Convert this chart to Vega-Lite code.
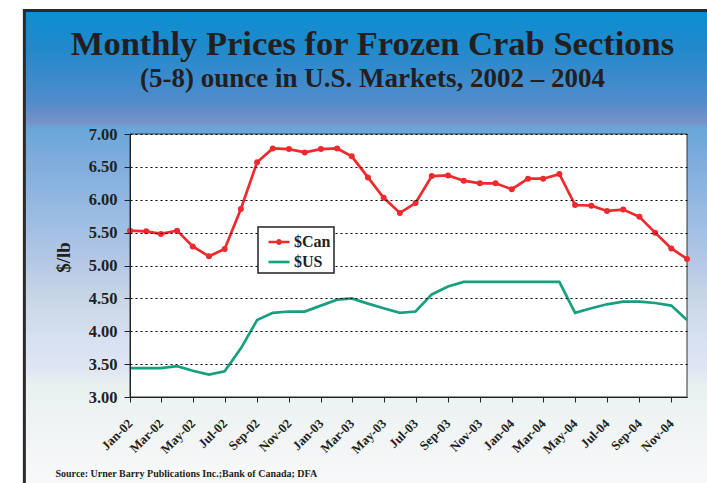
{
  "$schema": "https://vega.github.io/schema/vega-lite/v6.json",
  "width": 557,
  "height": 263,
  "autosize": {"type": "none"},
  "padding": {"left": 130, "top": 134, "right": 20, "bottom": 86},
  "background": "white",
  "title": {
    "text": "Monthly Prices for Frozen Crab Sections",
    "subtitle": "(5-8) ounce in U.S. Markets, 2002 – 2004",
    "anchor": "middle",
    "frame": "group",
    "dx": -36,
    "offset": -84,
    "font": "Liberation Serif",
    "fontSize": 34.5,
    "fontWeight": "bold",
    "color": "#231f20",
    "subtitleFont": "Liberation Serif",
    "subtitleFontSize": 27,
    "subtitleFontWeight": "bold",
    "subtitleColor": "#231f20",
    "subtitlePadding": 4,
    "zindex": 1
  },
  "datasets": {
    "prices": [
      {"month": "2002-01-01", "series": "$Can", "price": 5.53},
      {"month": "2002-02-01", "series": "$Can", "price": 5.52},
      {"month": "2002-03-01", "series": "$Can", "price": 5.48},
      {"month": "2002-04-01", "series": "$Can", "price": 5.53},
      {"month": "2002-05-01", "series": "$Can", "price": 5.29},
      {"month": "2002-06-01", "series": "$Can", "price": 5.14},
      {"month": "2002-07-01", "series": "$Can", "price": 5.25},
      {"month": "2002-08-01", "series": "$Can", "price": 5.86},
      {"month": "2002-09-01", "series": "$Can", "price": 6.57},
      {"month": "2002-10-01", "series": "$Can", "price": 6.78},
      {"month": "2002-11-01", "series": "$Can", "price": 6.77},
      {"month": "2002-12-01", "series": "$Can", "price": 6.72},
      {"month": "2003-01-01", "series": "$Can", "price": 6.77},
      {"month": "2003-02-01", "series": "$Can", "price": 6.78},
      {"month": "2003-03-01", "series": "$Can", "price": 6.66},
      {"month": "2003-04-01", "series": "$Can", "price": 6.34},
      {"month": "2003-05-01", "series": "$Can", "price": 6.03},
      {"month": "2003-06-01", "series": "$Can", "price": 5.80},
      {"month": "2003-07-01", "series": "$Can", "price": 5.95},
      {"month": "2003-08-01", "series": "$Can", "price": 6.36},
      {"month": "2003-09-01", "series": "$Can", "price": 6.37},
      {"month": "2003-10-01", "series": "$Can", "price": 6.29},
      {"month": "2003-11-01", "series": "$Can", "price": 6.25},
      {"month": "2003-12-01", "series": "$Can", "price": 6.25},
      {"month": "2004-01-01", "series": "$Can", "price": 6.16},
      {"month": "2004-02-01", "series": "$Can", "price": 6.32},
      {"month": "2004-03-01", "series": "$Can", "price": 6.32},
      {"month": "2004-04-01", "series": "$Can", "price": 6.39},
      {"month": "2004-05-01", "series": "$Can", "price": 5.92},
      {"month": "2004-06-01", "series": "$Can", "price": 5.91},
      {"month": "2004-07-01", "series": "$Can", "price": 5.83},
      {"month": "2004-08-01", "series": "$Can", "price": 5.85},
      {"month": "2004-09-01", "series": "$Can", "price": 5.74},
      {"month": "2004-10-01", "series": "$Can", "price": 5.50},
      {"month": "2004-11-01", "series": "$Can", "price": 5.26},
      {"month": "2004-12-01", "series": "$Can", "price": 5.10},
      {"month": "2002-01-01", "series": "$US", "price": 3.44},
      {"month": "2002-02-01", "series": "$US", "price": 3.44},
      {"month": "2002-03-01", "series": "$US", "price": 3.44},
      {"month": "2002-04-01", "series": "$US", "price": 3.47},
      {"month": "2002-05-01", "series": "$US", "price": 3.40},
      {"month": "2002-06-01", "series": "$US", "price": 3.34},
      {"month": "2002-07-01", "series": "$US", "price": 3.39},
      {"month": "2002-08-01", "series": "$US", "price": 3.74},
      {"month": "2002-09-01", "series": "$US", "price": 4.17},
      {"month": "2002-10-01", "series": "$US", "price": 4.28},
      {"month": "2002-11-01", "series": "$US", "price": 4.30},
      {"month": "2002-12-01", "series": "$US", "price": 4.30},
      {"month": "2003-01-01", "series": "$US", "price": 4.39},
      {"month": "2003-02-01", "series": "$US", "price": 4.48},
      {"month": "2003-03-01", "series": "$US", "price": 4.50},
      {"month": "2003-04-01", "series": "$US", "price": 4.42},
      {"month": "2003-05-01", "series": "$US", "price": 4.35},
      {"month": "2003-06-01", "series": "$US", "price": 4.28},
      {"month": "2003-07-01", "series": "$US", "price": 4.30},
      {"month": "2003-08-01", "series": "$US", "price": 4.56},
      {"month": "2003-09-01", "series": "$US", "price": 4.68},
      {"month": "2003-10-01", "series": "$US", "price": 4.75},
      {"month": "2003-11-01", "series": "$US", "price": 4.75},
      {"month": "2003-12-01", "series": "$US", "price": 4.75},
      {"month": "2004-01-01", "series": "$US", "price": 4.75},
      {"month": "2004-02-01", "series": "$US", "price": 4.75},
      {"month": "2004-03-01", "series": "$US", "price": 4.75},
      {"month": "2004-04-01", "series": "$US", "price": 4.75},
      {"month": "2004-05-01", "series": "$US", "price": 4.28},
      {"month": "2004-06-01", "series": "$US", "price": 4.35},
      {"month": "2004-07-01", "series": "$US", "price": 4.41},
      {"month": "2004-08-01", "series": "$US", "price": 4.45},
      {"month": "2004-09-01", "series": "$US", "price": 4.45},
      {"month": "2004-10-01", "series": "$US", "price": 4.43},
      {"month": "2004-11-01", "series": "$US", "price": 4.39},
      {"month": "2004-12-01", "series": "$US", "price": 4.17}
    ]
  },
  "data": {"name": "prices"},
  "layer": [
    {
      "data": {"values": [{}]},
      "mark": {
        "type": "rect",
        "clip": false,
        "stroke": "#2b2b2b",
        "strokeWidth": 3,
        "fill": {
          "gradient": "linear",
          "x1": 0, "y1": 0, "x2": 0, "y2": 1,
          "stops": [
            {"offset": 0.0, "color": "#0a8fd3"},
            {"offset": 0.076, "color": "#2389cb"},
            {"offset": 0.173, "color": "#4f8ccb"},
            {"offset": 0.215, "color": "#7590c9"},
            {"offset": 0.227, "color": "#69a6d9"},
            {"offset": 0.289, "color": "#7eacdc"},
            {"offset": 0.404, "color": "#9cbde3"},
            {"offset": 0.491, "color": "#b6c9e6"},
            {"offset": 0.559, "color": "#c9d7e6"},
            {"offset": 0.626, "color": "#d4e0f0"},
            {"offset": 0.691, "color": "#e0e5f4"},
            {"offset": 0.723, "color": "#e8f1f0"},
            {"offset": 0.829, "color": "#f2f5f5"},
            {"offset": 0.912, "color": "#f8f9fa"},
            {"offset": 1.0, "color": "#fafafa"}
          ]
        }
      },
      "encoding": {
        "x": {"datum": {"year": 2001, "month": 6, "date": 13, "utc": true}, "type": "temporal",
          "scale": {"type": "utc", "domain": [{"year": 2002, "month": 1, "date": 1, "utc": true}, {"year": 2004, "month": 12, "date": 1, "utc": true}]},
          "axis": {"title": "Source: Urner Barry Publications Inc.;Bank of Canada; DFA", "titleX": -75, "titleY": 79, "format": "%b-%y", "tickCount": {"interval": "month", "step": 2}, "labelAngle": -45, "labelAlign": "right", "labelBaseline": "middle", "labelPadding": 19, "grid": false, "zindex": 1}},
        "x2": {"datum": {"year": 2006, "month": 1, "date": 1, "utc": true}},
        "y": {"datum": 8.878, "type": "quantitative",
          "scale": {"domain": [3, 7], "zero": false, "nice": false},
          "axis": {"title": "$/lb", "titlePadding": 15, "titleY": 123, "values": [3, 3.5, 4, 4.5, 5, 5.5, 6, 6.5, 7], "format": ".2f", "labelPadding": 7, "tickSize": 6, "grid": true, "zindex": 1}},
        "y2": {"datum": 1.0}
      }
    },
    {
      "data": {"values": [{}]},
      "mark": {"type": "rect", "clip": false, "fill": "white", "stroke": "#333333", "strokeWidth": 1},
      "encoding": {
        "x": {"datum": {"year": 2002, "month": 1, "date": 1, "utc": true}, "type": "temporal",
          "scale": {"type": "utc", "domain": [{"year": 2002, "month": 1, "date": 1, "utc": true}, {"year": 2004, "month": 12, "date": 1, "utc": true}]},
          "axis": {"title": "Source: Urner Barry Publications Inc.;Bank of Canada; DFA", "titleX": -75, "titleY": 79, "format": "%b-%y", "tickCount": {"interval": "month", "step": 2}, "labelAngle": -45, "labelAlign": "right", "labelBaseline": "middle", "labelPadding": 19, "grid": false, "zindex": 1}},
        "x2": {"datum": {"year": 2004, "month": 12, "date": 1, "utc": true}},
        "y": {"datum": 7, "type": "quantitative",
          "scale": {"domain": [3, 7], "zero": false, "nice": false},
          "axis": {"title": "$/lb", "titlePadding": 15, "titleY": 123, "values": [3, 3.5, 4, 4.5, 5, 5.5, 6, 6.5, 7], "format": ".2f", "labelPadding": 7, "tickSize": 6, "grid": true, "zindex": 1}},
        "y2": {"datum": 3}
      }
    },
    {
      "mark": {"type": "line", "strokeWidth": 2.7},
      "encoding": {
        "x": {"field": "month", "type": "temporal",
          "scale": {"type": "utc", "domain": [{"year": 2002, "month": 1, "date": 1, "utc": true}, {"year": 2004, "month": 12, "date": 1, "utc": true}]},
          "axis": {"title": "Source: Urner Barry Publications Inc.;Bank of Canada; DFA", "titleX": -75, "titleY": 79, "format": "%b-%y", "tickCount": {"interval": "month", "step": 2}, "labelAngle": -45, "labelAlign": "right", "labelBaseline": "middle", "labelPadding": 19, "grid": false, "zindex": 1}},
        "y": {"field": "price", "type": "quantitative",
          "scale": {"domain": [3, 7], "zero": false, "nice": false},
          "axis": {"title": "$/lb", "titlePadding": 15, "titleY": 123, "values": [3, 3.5, 4, 4.5, 5, 5.5, 6, 6.5, 7], "format": ".2f", "labelPadding": 7, "tickSize": 6, "grid": true, "zindex": 1}},
        "color": {
          "field": "series", "type": "nominal",
          "scale": {"domain": ["$Can", "$US"], "range": ["#ee2a2e", "#17a07f"]},
          "legend": {
            "title": null,
            "orient": "none",
            "legendX": 128,
            "legendY": 93,
            "padding": 3,
            "symbolOffset": 6,
            "fillColor": "white",
            "strokeColor": "#222222",
            "symbolType": "stroke",
            "symbolStrokeWidth": 2.7,
            "symbolSize": 441,
            "rowPadding": 0,
            "labelOffset": 3,
            "labelFont": "Liberation Serif",
            "labelFontSize": 16,
            "labelFontWeight": "bold",
            "labelColor": "#231f20",
            "zindex": 1,
            "encode": {
              "legend": {"update": {"strokeWidth": {"value": 1.5}}},
              "symbols": {"update": {"shape": [
                {"test": "datum.value === '$Can'", "value": "M-1,0H1M-0.15,0A0.15,0.15,0,1,1,0.15,0A0.15,0.15,0,1,1,-0.15,0"},
                {"value": "stroke"}
              ]}}
            }
          }
        }
      }
    },
    {
      "transform": [{"filter": "datum.series === '$Can'"}],
      "mark": {"type": "point", "filled": true, "size": 36, "opacity": 1, "color": "#ee2a2e"},
      "encoding": {
        "x": {"field": "month", "type": "temporal",
          "scale": {"type": "utc", "domain": [{"year": 2002, "month": 1, "date": 1, "utc": true}, {"year": 2004, "month": 12, "date": 1, "utc": true}]},
          "axis": {"title": "Source: Urner Barry Publications Inc.;Bank of Canada; DFA", "titleX": -75, "titleY": 79, "format": "%b-%y", "tickCount": {"interval": "month", "step": 2}, "labelAngle": -45, "labelAlign": "right", "labelBaseline": "middle", "labelPadding": 19, "grid": false, "zindex": 1}},
        "y": {"field": "price", "type": "quantitative",
          "scale": {"domain": [3, 7], "zero": false, "nice": false},
          "axis": {"title": "$/lb", "titlePadding": 15, "titleY": 123, "values": [3, 3.5, 4, 4.5, 5, 5.5, 6, 6.5, 7], "format": ".2f", "labelPadding": 7, "tickSize": 6, "grid": true, "zindex": 1}}
      }
    }
  ],
  "config": {
    "view": {"stroke": null, "fill": null},
    "axisX": {
      "titleFont": "Liberation Serif",
      "titleFontSize": 10,
      "titleFontWeight": "bold",
      "titleColor": "#231f20",
      "titleAlign": "left",
      "titleBaseline": "alphabetic",
      "titleAnchor": "start",
      "labelFont": "Liberation Serif",
      "labelFontSize": 13,
      "labelFontWeight": "bold",
      "labelColor": "#231f20",
      "labelOverlap": false,
      "labelBound": false,
      "labelFlush": false,
      "tickSize": 5,
      "tickColor": "#222222",
      "domainColor": "#222222"
    },
    "axisY": {
      "titleFont": "Liberation Serif",
      "titleFontSize": 19,
      "titleFontWeight": "bold",
      "titleColor": "#231f20",
      "labelFont": "Liberation Serif",
      "labelFontSize": 16.5,
      "labelFontWeight": "bold",
      "labelColor": "#231f20",
      "labelOverlap": false,
      "tickColor": "#222222",
      "domainColor": "#222222",
      "gridColor": "#000000",
      "gridDash": [2, 3],
      "gridWidth": 1,
      "gridOpacity": 1
    }
  }
}
